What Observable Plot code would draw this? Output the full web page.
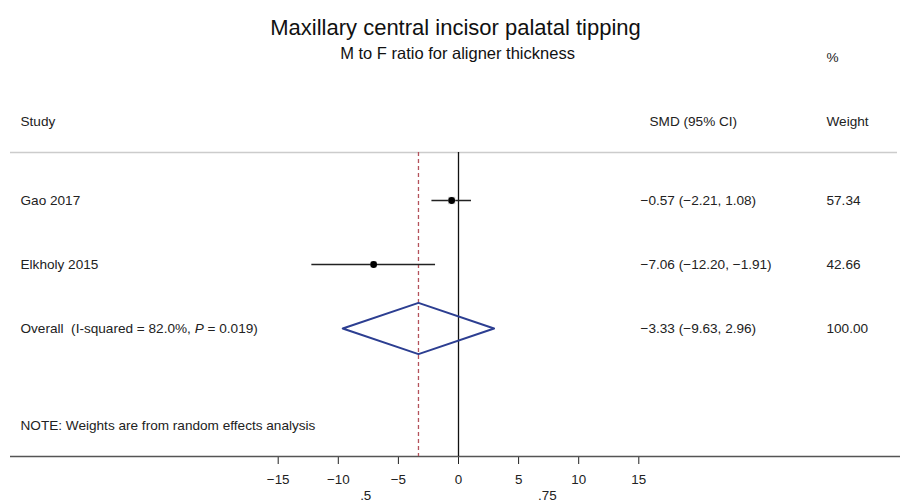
<!DOCTYPE html>
<html>
<head>
<meta charset="utf-8">
<script src="https://cdn.jsdelivr.net/npm/d3@7"></script>
<script src="https://cdn.jsdelivr.net/npm/@observablehq/plot@0.6"></script>
<style>
  html, body { margin: 0; padding: 0; background: #fff; }
  #chart svg { display: block; }
</style>
</head>
<body>
<div id="chart"></div>
<script>
// Forest plot: standardized mean differences per study and pooled estimate
const studies = ["Gao 2017", "Elkholy 2015"];
const smd = [-0.57, -7.06];
const ciLow = [-2.21, -12.20];
const ciHigh = [1.08, -1.91];
const weights = ["57.34", "42.66"];
const weightValues = [57.34, 42.66];

const overallLabel = "Overall  (I-squared = 82.0%, P = 0.019)";
const overallSmd = -3.33;
const overallLow = -9.63;
const overallHigh = 2.96;
const overallWeight = "100.00";

const xTicks = [-15, -10, -5, 0, 5, 10, 15];
const secondaryTicks = [-7.72, 7.39];
const secondaryLabels = [".5", ".75"];

const chartTitle = "Maxillary central incisor palatal tipping";
const chartSubtitle = "M to F ratio for aligner thickness";
const noteText = "NOTE: Weights are from random effects analysis";

const fmt = (v) => v.toFixed(2).replace(/-/g, "\u2212");
const ciText = (m, lo, hi) => `${fmt(m)} (${fmt(lo)}, ${fmt(hi)})`;

// Rows from the top: studies at 1, 2; pooled estimate at 3
const rows = studies.map((s, i) => ({
  study: s, row: i + 1, smd: smd[i], lo: ciLow[i], hi: ciHigh[i],
  weight: weights[i], w: weightValues[i],
  ci: ciText(smd[i], ciLow[i], ciHigh[i])
}));
const overallRow = 3;
const half = 0.4;
const diamond = [
  {x: overallLow, y: overallRow},
  {x: overallSmd, y: overallRow - half},
  {x: overallHigh, y: overallRow},
  {x: overallSmd, y: overallRow + half},
  {x: overallLow, y: overallRow}
];
const tableRows = [
  ...rows.map(r => ({label: r.study, row: r.row, ci: r.ci, weight: r.weight})),
  {label: overallLabel, row: overallRow, ci: ciText(overallSmd, overallLow, overallHigh), weight: overallWeight}
];

const font = "'Liberation Sans', Arial, Helvetica, sans-serif";
const ink = "#222";
const fs = 13.6;
const left = 277.7, right = 261.7;
const rightEdge = 900 - right;

const plot = Plot.plot({
  width: 900,
  height: 502,
  marginLeft: left,
  marginRight: right,
  marginTop: 152,
  marginBottom: 46,
  style: {fontFamily: font, fontSize: "13.4px", color: ink, background: "#fff"},
  x: {domain: [-15, 15], ticks: xTicks, tickSize: 8, tickPadding: 10, label: null,
      tickFormat: d => d === 0 ? "0" : String(d).replace("-", "\u2212")},
  y: {domain: [0.25, 5], reverse: true, axis: null},
  r: {range: [0, 5.5], domain: [0, 100]},
  marks: [
    // header separator and bottom axis line across the whole table
    Plot.ruleY([0.25], {stroke: "#cccccc", strokeWidth: 1.5, insetLeft: -(left - 10), insetRight: -(right - 3)}),
    Plot.ruleY([5], {stroke: "#555", strokeWidth: 1.5, insetLeft: -(left - 10), insetRight: -right}),
    // reference lines: no effect and pooled estimate
    Plot.ruleX([0], {stroke: "#111", strokeWidth: 1.3}),
    Plot.ruleX([overallSmd], {stroke: "#b4525c", strokeWidth: 1.3, strokeDasharray: "4,3"}),
    // study confidence intervals
    Plot.ruleY(rows, {y: "row", x1: "lo", x2: "hi", stroke: "#222", strokeWidth: 1.6}),
    // weight boxes and point estimates
    Plot.dot(rows, {x: "smd", y: "row", r: "w", symbol: "square", fill: "#c4c4c4", fillOpacity: 0.8}),
    Plot.dot(rows, {x: "smd", y: "row", r: 3.4, fill: "#000"}),
    // pooled estimate diamond
    Plot.line(diamond, {x: "x", y: "y", stroke: "#2c3e91", strokeWidth: 2}),
    // table columns
    Plot.text(tableRows, {y: "row", text: "label", frameAnchor: "left", dx: 20 - left, textAnchor: "start", fill: ink, fontSize: fs}),
    Plot.text(tableRows, {y: "row", text: "ci", frameAnchor: "right", dx: 640 - rightEdge, textAnchor: "start", fill: ink, fontSize: fs}),
    Plot.text(tableRows, {y: "row", text: "weight", frameAnchor: "right", dx: 826 - rightEdge, textAnchor: "start", fill: ink, fontSize: fs}),
    // column headers
    Plot.text(["Study"], {frameAnchor: "top-left", dx: 20 - left, dy: 121 - 152, textAnchor: "start", lineAnchor: "middle", fill: ink, fontSize: fs}),
    Plot.text(["SMD (95% CI)"], {frameAnchor: "top-right", dx: 649 - rightEdge, dy: 121 - 152, textAnchor: "start", lineAnchor: "middle", fill: ink, fontSize: fs}),
    Plot.text(["Weight"], {frameAnchor: "top-right", dx: 826 - rightEdge, dy: 121 - 152, textAnchor: "start", lineAnchor: "middle", fill: ink, fontSize: fs}),
    Plot.text(["%"], {frameAnchor: "top-right", dx: 826 - rightEdge, dy: 57 - 152, textAnchor: "start", lineAnchor: "middle", fill: ink, fontSize: fs}),
    // titles
    Plot.text([chartTitle], {frameAnchor: "top", dx: -3, dy: 27 - 152, lineAnchor: "middle", fill: "#111", fontSize: 22, letterSpacing: "0.4px"}),
    Plot.text([chartSubtitle], {frameAnchor: "top", dx: -1, dy: 53 - 152, lineAnchor: "middle", fill: "#111", fontSize: 16.5, letterSpacing: "0.6px"}),
    // footnote
    Plot.text([noteText], {frameAnchor: "bottom-left", dx: 20 - left, dy: 425 - 456, textAnchor: "start", lineAnchor: "middle", fill: ink, fontSize: fs}),
    // secondary scale labels below the axis
    Plot.text(secondaryTicks, {x: d => d, text: (d, i) => secondaryLabels[i], frameAnchor: "bottom", dy: 39, lineAnchor: "middle", fill: ink, fontSize: 13.4})
  ]
});

// Italicize the P in the heterogeneity label
d3.select(plot).selectAll("text").each(function () {
  const el = d3.select(this);
  if (el.text() === overallLabel) {
    const [before, after] = overallLabel.split("P = ");
    el.text(null);
    el.append("tspan").text(before);
    el.append("tspan").attr("font-style", "italic").text("P");
    el.append("tspan").text(" = " + after);
  }
});

document.getElementById("chart").append(plot);
</script>
</body>
</html>
